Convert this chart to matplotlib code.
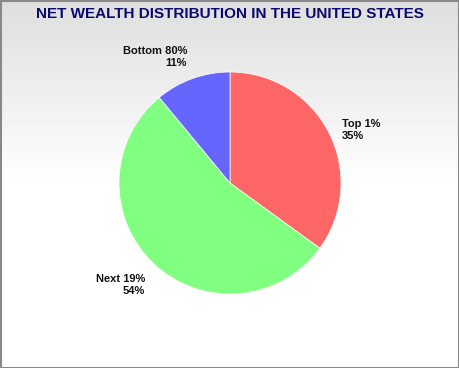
import numpy as np
import matplotlib
matplotlib.use("Agg")
import matplotlib.pyplot as plt
from matplotlib.patches import Rectangle

labels = ["Top 1%", "Next 19%", "Bottom 80%"]
values = [35, 54, 11]
colors = ["#ff6666", "#80ff80", "#6666ff"]
title = "NET WEALTH DISTRIBUTION IN THE UNITED STATES"

W, H = 460, 368
fig = plt.figure(figsize=(W / 100, H / 100), dpi=100)

# background gradient
bg = fig.add_axes([0, 0, 1, 1], zorder=0)
rows = np.linspace(0, 1, H)
vals = np.where(rows < 185 / H, 0.871 + (1 - 0.871) * (rows / (185 / H)), 1.0)
img = np.repeat(vals[:, None], 2, axis=1)
bg.imshow(img, cmap="gray", vmin=0, vmax=1, aspect="auto", extent=[0, 1, 0, 1], origin="upper")
bg.set_xlim(0, 1)
bg.set_ylim(0, 1)
bg.axis("off")
bg.add_patch(Rectangle((0.5 / W, 0.5 / H), 1 - 1.5 / W, 1 - 1.5 / H, transform=bg.transAxes,
                       fill=False, edgecolor="#888888", linewidth=1.5))

cx, cy, r = 230, 183, 111
ax = fig.add_axes([0, 0, 1, 1], zorder=1)
ax.patch.set_alpha(0)
wedges, _ = ax.pie(values, colors=colors, startangle=90, counterclock=False, radius=1,
                   wedgeprops=dict(linewidth=0.5, edgecolor="white"))
ax.set_aspect("auto")
ax.set_xlim(-cx / r, (W - cx) / r)
ax.set_ylim(-(H - cy) / r, cy / r)
ax.axis("off")

def py(y):
    return (cy - y) / r

def px(x):
    return (x - cx) / r

font = dict(family=["Liberation Sans", "DejaVu Sans"], fontsize=8, fontweight="bold",
            color="#111111", va="center", linespacing=1.25)
ax.text(px(342), py(130), f"{labels[0]}\n{values[0]}%", ha="left", multialignment="left", **font)
ax.text(px(187), py(57.5), f"{labels[2]}\n{values[2]}%", ha="right", multialignment="right", **font)
ax.text(px(145), py(285.5), f"{labels[1]}\n{values[1]}%", ha="right", multialignment="right", **font)

fig.text(0.5, 1 - 14 / H, title, ha="center", va="center", fontsize=11, fontweight="bold",
         color="#0a0a6e", family=["Liberation Sans", "DejaVu Sans"])

fig.savefig("out.png", dpi=100)
